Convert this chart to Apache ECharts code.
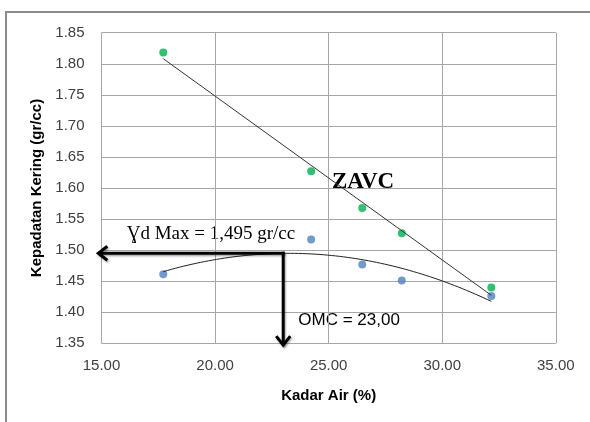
<!DOCTYPE html>
<html>
<head>
<meta charset="utf-8">
<script src="https://cdn.jsdelivr.net/npm/echarts@6/dist/echarts.min.js"></script>
<style>
  html, body { margin: 0; padding: 0; background: #fff; }
  #chart { width: 590px; height: 422px; }
</style>
</head>
<body>
<div id="chart"></div>
<script>
// Moisture content (%) of each compaction sample
const kadarAir = [17.72, 24.23, 26.48, 28.22, 32.16];
// Dry density from the compaction test (gr/cc)
const kepadatanKering = [1.461, 1.517, 1.477, 1.451, 1.426];
// Zero-air-voids density (gr/cc)
const zavc = [1.818, 1.627, 1.568, 1.527, 1.440];

// Read-off values from the compaction curve
const omc = 23.00;
const gammaDMax = 1.495;
// Where the guide arrows end
const arrowLeftX = 14.86;
const arrowBottomY = 1.347;

// Axis ranges
const xMin = 15, xMax = 35, xStep = 5;
const yMin = 1.35, yMax = 1.85, yStep = 0.05;

// Least-squares polynomial fit (degree n) through x/y
function polyFit(xs, ys, n) {
  const m = n + 1;
  const A = [];
  for (let i = 0; i < m; i++) {
    A.push(new Array(m + 1).fill(0));
  }
  for (let k = 0; k < xs.length; k++) {
    for (let i = 0; i < m; i++) {
      for (let j = 0; j < m; j++) A[i][j] += Math.pow(xs[k], i + j);
      A[i][m] += ys[k] * Math.pow(xs[k], i);
    }
  }
  for (let i = 0; i < m; i++) {
    let p = i;
    for (let r = i + 1; r < m; r++) if (Math.abs(A[r][i]) > Math.abs(A[p][i])) p = r;
    [A[i], A[p]] = [A[p], A[i]];
    for (let r = 0; r < m; r++) {
      if (r === i) continue;
      const f = A[r][i] / A[i][i];
      for (let c = i; c <= m; c++) A[r][c] -= f * A[i][c];
    }
  }
  return A.map((row, i) => row[m] / row[i]);
}
function trend(xs, ys, n, steps) {
  const c = polyFit(xs, ys, n);
  const lo = Math.min(...xs), hi = Math.max(...xs);
  const pts = [];
  for (let s = 0; s <= steps; s++) {
    const x = lo + (hi - lo) * s / steps;
    let y = 0;
    for (let i = 0; i < c.length; i++) y += c[i] * Math.pow(x, i);
    pts.push([x, y]);
  }
  return pts;
}

const zavcTrend = trend(kadarAir, zavc, 1, 1);
const densityTrend = trend(kadarAir, kepadatanKering, 2, 80);

const chart = echarts.init(document.getElementById('chart'), null, { renderer: 'canvas' });

const gridColor = '#a6a6a6';
const labelFont = 'Liberation Sans, Arial, sans-serif';

// Thick guide arrows from the peak of the curve to both axes
function renderArrows(params, api) {
  const corner = api.coord([omc, gammaDMax]);
  const left = api.coord([arrowLeftX, gammaDMax]);
  const bottom = api.coord([omc, arrowBottomY]);
  const style = {
    stroke: '#000', lineWidth: 3, fill: null, lineJoin: 'miter', lineCap: 'butt',
    shadowBlur: 2, shadowOffsetX: 1, shadowOffsetY: 1.5, shadowColor: 'rgba(0,0,0,0.35)'
  };
  const a = 9, b = 7;
  return {
    type: 'group',
    children: [
      { type: 'polyline', shape: { points: [left, [corner[0] + 1.5, corner[1]]] }, style: style },
      { type: 'polyline', shape: { points: [[left[0] + a, left[1] - b], left, [left[0] + a, left[1] + b]] }, style: style },
      { type: 'polyline', shape: { points: [[corner[0], corner[1] - 1.5], bottom] }, style: style },
      { type: 'polyline', shape: { points: [[bottom[0] - b, bottom[1] - a], bottom, [bottom[0] + b, bottom[1] - a]] }, style: style }
    ]
  };
}

chart.setOption({
  animation: false,
  backgroundColor: '#fff',
  grid: { left: 101.5, right: 34.2, top: 32.7, bottom: 78.7, containLabel: false },
  xAxis: {
    type: 'value',
    min: xMin, max: xMax, interval: xStep,
    name: 'Kadar Air (%)',
    nameLocation: 'middle',
    nameGap: 45,
    nameTextStyle: { fontFamily: labelFont, fontSize: 15, fontWeight: 'bold', color: '#000' },
    axisLine: { show: false },
    axisTick: { show: false },
    axisLabel: {
      fontFamily: labelFont, fontSize: 15, color: '#404040', margin: 15,
      formatter: v => v.toFixed(2)
    },
    splitLine: { show: true, lineStyle: { color: gridColor, width: 1 } }
  },
  yAxis: {
    type: 'value',
    min: yMin, max: yMax, interval: yStep,
    name: 'Kepadatan Kering (gr/cc)',
    nameLocation: 'middle',
    nameGap: 54,
    nameTextStyle: { fontFamily: labelFont, fontSize: 15, fontWeight: 'bold', color: '#000' },
    axisLine: { show: false },
    axisTick: { show: false },
    axisLabel: {
      fontFamily: labelFont, fontSize: 15, color: '#404040', margin: 17,
      formatter: v => v.toFixed(2)
    },
    splitLine: { show: true, lineStyle: { color: gridColor, width: 1 } }
  },
  series: [
    {
      name: 'ZAVC',
      type: 'scatter',
      data: kadarAir.map((x, i) => [x, zavc[i]]),
      symbolSize: 8,
      itemStyle: { color: '#00b050' },
      z: 3
    },
    {
      name: 'Kepadatan Kering',
      type: 'scatter',
      data: kadarAir.map((x, i) => [x, kepadatanKering[i]]),
      symbolSize: 8,
      itemStyle: { color: '#4f81bd' },
      z: 3
    },
    {
      name: 'ZAVC trend',
      type: 'line',
      data: zavcTrend,
      showSymbol: false,
      symbol: 'none',
      lineStyle: { color: '#333', width: 1 },
      z: 4
    },
    {
      name: 'Kepadatan trend',
      type: 'line',
      data: densityTrend,
      showSymbol: false,
      symbol: 'none',
      lineStyle: { color: '#222', width: 1 },
      z: 4
    },
    {
      name: 'Panah',
      type: 'custom',
      data: [[omc, gammaDMax]],
      renderItem: renderArrows,
      clip: false,
      silent: true,
      z: 5
    }
  ],
  graphic: [
    {
      type: 'rect',
      shape: { x: 6, y: 12, width: 700, height: 600 },
      style: { fill: null, stroke: '#8c8c8c', lineWidth: 2 },
      silent: true
    },
    {
      type: 'text',
      left: 332, top: 170.3,
      style: {
        text: 'ZAVC', fill: '#000',
        font: 'bold 23px "Liberation Serif", "Times New Roman", serif',
        verticalAlign: 'middle'
      }
    },
    {
      type: 'text',
      x: 126.7, y: 233.7,
      style: {
        text: 'Ɣd Max = 1,495 gr/cc', fill: '#000',
        font: '19px "Liberation Serif", "Times New Roman", serif',
        verticalAlign: 'middle'
      }
    },
    {
      type: 'text',
      x: 298.3, y: 319.9,
      style: {
        text: 'OMC = 23,00', fill: '#000',
        font: '17px "Liberation Sans", Arial, sans-serif',
        verticalAlign: 'middle'
      }
    }
  ]
});
</script>
</body>
</html>
